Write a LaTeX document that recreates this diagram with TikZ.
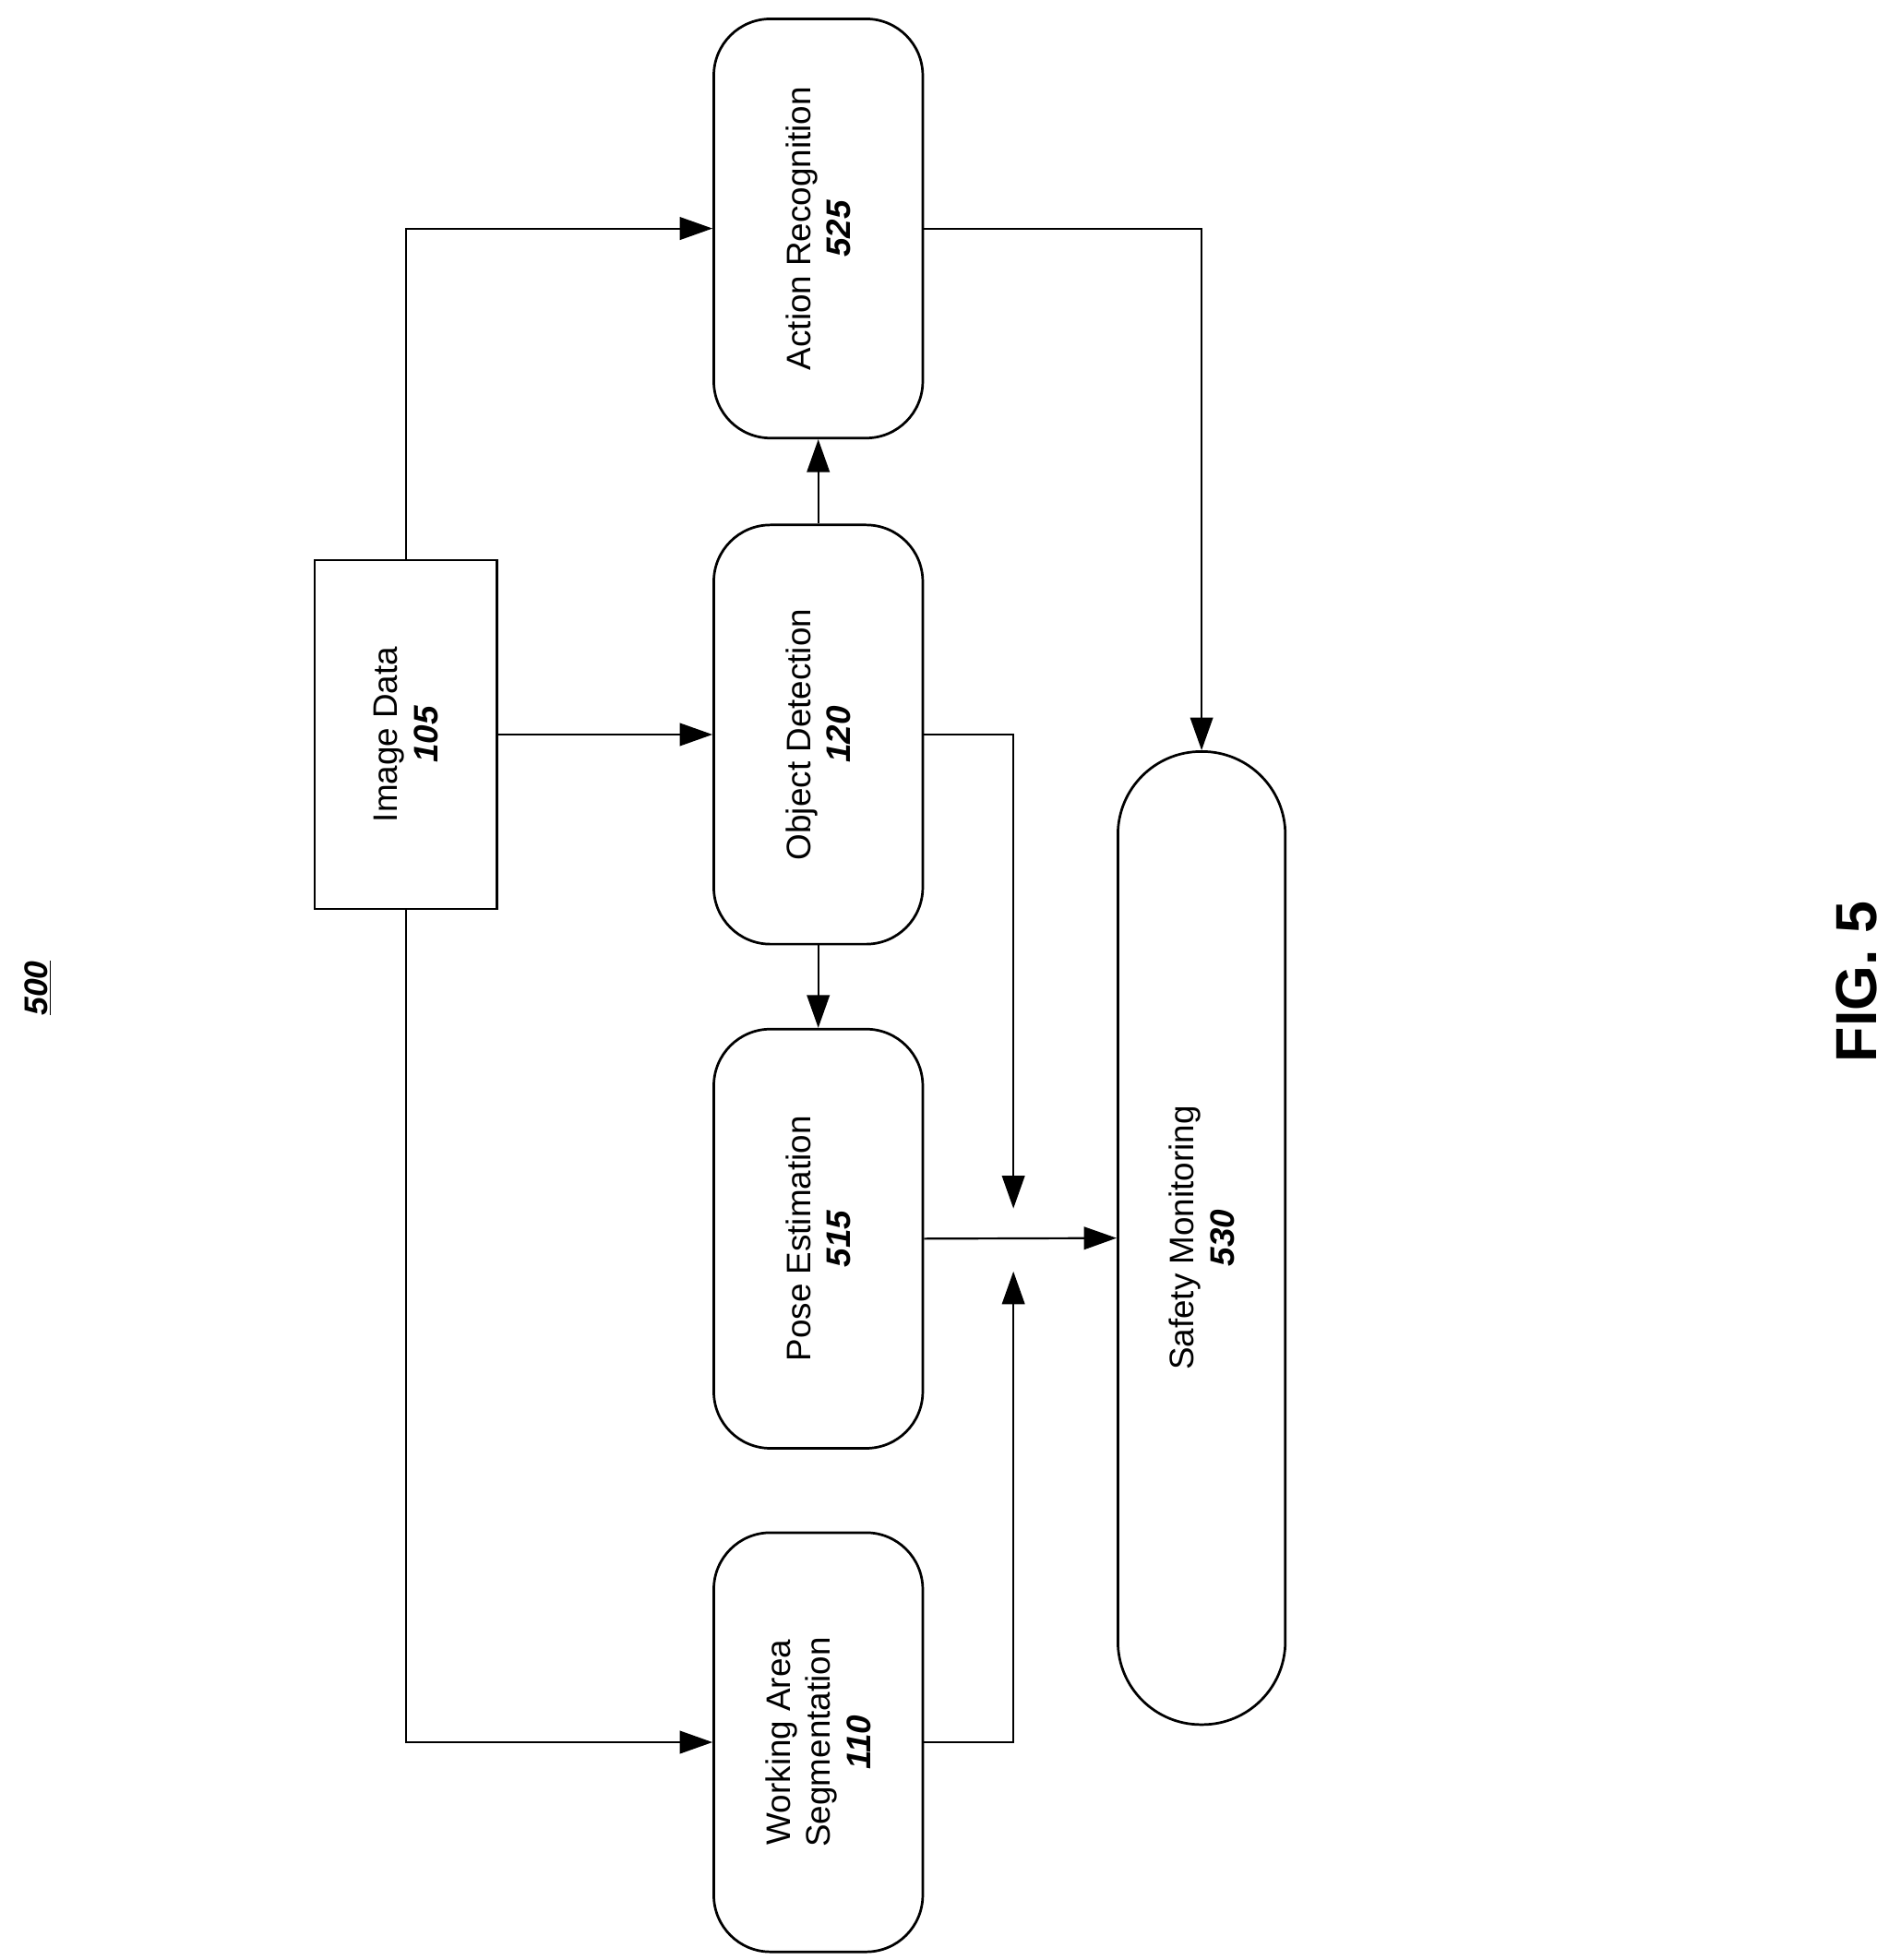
\documentclass[tikz,border=0pt]{standalone}
\usepackage{fontspec}
\setmainfont{Liberation Sans}
\usetikzlibrary{arrows.meta}
\begin{document}
\begin{tikzpicture}[x=1pt,y=-1pt,
  box/.style={draw,line width=2pt,minimum width=166pt,minimum height=333pt,rounded corners=45pt},
  lbl/.style={rotate=90,align=center,font=\fontsize{27}{32}\selectfont},
  ar/.style={line width=1.6pt,-{Triangle[length=26pt,width=18pt]}},
  ln/.style={line width=1.6pt}]
\useasboundingbox (0,0) rectangle (1500,1557);
\node[draw,line width=2pt,minimum width=145pt,minimum height=277pt] (img) at (322.5,583.5) {};
\node[lbl] at (img) {Image Data\\\textbf{\textit{105}}};
\node[box] (od) at (650,583.5) {};
\node[lbl] at (od) {Object Detection\\\textbf{\textit{120}}};
\node[box] (ar) at (650,181.5) {};
\node[lbl] at (ar) {Action Recognition\\\textbf{\textit{525}}};
\node[box] (pe) at (650,984) {};
\node[lbl] at (pe) {Pose Estimation\\\textbf{\textit{515}}};
\node[box] (was) at (650,1384) {};
\node[lbl] at (was) {Working Area\\Segmentation\\\textbf{\textit{110}}};
\node[draw,line width=2pt,minimum width=133pt,minimum height=773pt,rounded corners=66pt] (sm) at (954.5,983.5) {};
\node[lbl] at (sm) {Safety Monitoring\\\textbf{\textit{530}}};
\node[rotate=90,font=\fontsize{26}{30}\selectfont\bfseries\itshape] (num) at (30,785) {\underline{500}};
\node[rotate=90,font=\fontsize{46}{52}\selectfont\bfseries] (fig) at (1475,780) {FIG. 5};
\coordinate (j1) at (805,960);
\coordinate (j2) at (805,1010);
\draw[ar] (img.north) |- (ar.west);
\draw[ar] (img.east) -- (od.west);
\draw[ar] (img.south) |- (was.west);
\draw[ar] (od.north) -- (ar.south);
\draw[ar] (od.south) -- (pe.north);
\draw[ar] (ar.east) -| (sm.north);
\draw[ar] (od.east) -| (j1);
\draw[ar] (was.east) -| (j2);
\draw[ar] (pe.east) -- (sm.west);
\end{tikzpicture}
\end{document}
